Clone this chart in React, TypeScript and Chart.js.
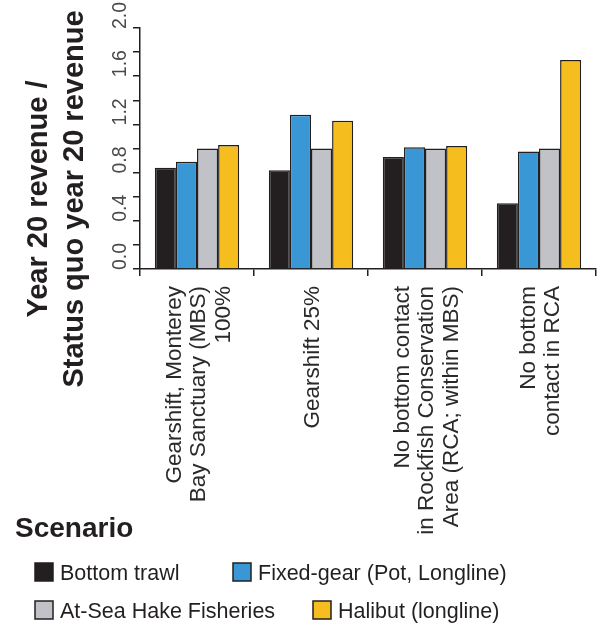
import { useEffect, useRef } from 'react';
import { Chart, registerables } from 'chart.js';
import type { Plugin } from 'chart.js';

Chart.register(...registerables);

// scenario names, one entry per line of the rotated label
const scenarios = [
  ['Gearshift, Monterey', 'Bay Sanctuary (MBS)', '100%'],
  ['Gearshift 25%'],
  ['No bottom contact', 'in Rockfish Conservation', 'Area (RCA; within MBS)'],
  ['No bottom', 'contact in RCA'],
];

// year 20 revenue relative to status quo
const bottomTrawl = [0.84, 0.82, 0.93, 0.545];
const fixedGear = [0.89, 1.28, 1.01, 0.975];
const atSeaHake = [1.0, 1.0, 1.0, 1.0];
const halibut = [1.03, 1.23, 1.02, 1.735];

const yTickValues = [0, 0.4, 0.8, 1.2, 1.6, 2.0];
const yTickLabels = ['0.0', '0.4', '0.8', '1.2', '1.6', '2.0'];
const yTitle = ['Year 20 revenue /', 'Status quo year 20 revenue'];
const xTitle = 'Scenario';

const INK = '#231f20';
const FONT = '"Liberation Sans", Arial, Helvetica, sans-serif';

// the figure's text sits where Chart.js can't put it (rotated, centred multi-line)
const figureText: Plugin<'bar'> = {
  id: 'figureText',
  afterDraw(chart) {
    const { ctx } = chart;
    const xs = chart.scales.x;
    const ys = chart.scales.y;
    ctx.save();

    // y tick labels, rotated, starting at their tick
    ctx.fillStyle = '#4a4a4c';
    ctx.font = `19.5px ${FONT}`;
    ctx.textAlign = 'left';
    ctx.textBaseline = 'alphabetic';
    yTickValues.forEach((v, i) => {
      ctx.save();
      ctx.translate(126, ys.getPixelForValue(v) + 1);
      ctx.rotate(-Math.PI / 2);
      ctx.fillText(yTickLabels[i], 0, 0);
      ctx.restore();
    });

    // category labels
    ctx.fillStyle = '#2a2a2a';
    ctx.font = `22.5px ${FONT}`;
    ctx.textAlign = 'right';
    const lineGap = 24.5;
    (chart.data.labels as string[][]).forEach((lines, i) => {
      const cx = xs.getPixelForValue(i);
      lines.forEach((line, j) => {
        const mid = cx + (j - (lines.length - 1) / 2) * lineGap;
        ctx.save();
        ctx.translate(mid + 8, ys.bottom + 17);
        ctx.rotate(-Math.PI / 2);
        ctx.fillText(line, 0, 0);
        ctx.restore();
      });
    });

    // y axis title
    ctx.fillStyle = INK;
    ctx.font = `bold 29px ${FONT}`;
    ctx.textAlign = 'center';
    [47, 83].forEach((bx, j) => {
      ctx.save();
      ctx.translate(bx, 199);
      ctx.rotate(-Math.PI / 2);
      ctx.fillText(yTitle[j], 0, 0);
      ctx.restore();
    });

    // x axis title
    ctx.font = `bold 28px ${FONT}`;
    ctx.textAlign = 'left';
    ctx.fillText(xTitle, 15, 537);

    // legend, two rows
    const slots = [
      [35, 563],
      [233, 563],
      [35, 601],
      [313, 601],
    ];
    ctx.font = `21.5px ${FONT}`;
    chart.data.datasets.forEach((ds, i) => {
      const [bx, by] = slots[i];
      ctx.fillStyle = ds.backgroundColor as string;
      ctx.fillRect(bx, by, 18, 18);
      ctx.strokeStyle = INK;
      ctx.lineWidth = 1.5;
      ctx.strokeRect(bx, by, 18, 18);
      ctx.fillStyle = INK;
      ctx.fillText(ds.label as string, bx + 25, by + 17);
    });

    ctx.restore();
  },
};

export default function App() {
  const canvasRef = useRef<HTMLCanvasElement>(null);
  const chartRef = useRef<Chart<'bar'> | null>(null);

  useEffect(() => {
    document.body.style.margin = '0';
    if (!canvasRef.current) return;
    if (chartRef.current) chartRef.current.destroy();

    const bar = (label: string, data: number[], color: string) => ({
      label,
      data,
      backgroundColor: color,
      borderColor: INK,
      borderWidth: 1.5,
      categoryPercentage: 0.74,
      barPercentage: 1.0,
    });

    chartRef.current = new Chart(canvasRef.current, {
      type: 'bar',
      data: {
        labels: scenarios,
        datasets: [
          bar('Bottom trawl', bottomTrawl, INK),
          bar('Fixed-gear (Pot, Longline)', fixedGear, '#3a97d6'),
          bar('At-Sea Hake Fisheries', atSeaHake, '#c0c2c7'),
          bar('Halibut (longline)', halibut, '#f6bd1e'),
        ],
      },
      options: {
        animation: false,
        responsive: true,
        maintainAspectRatio: false,
        layout: { padding: { top: 28, right: 8, left: 0, bottom: 0 } },
        plugins: {
          legend: { display: false },
          tooltip: { enabled: false },
        },
        scales: {
          x: {
            grid: {
              offset: true,
              drawOnChartArea: false,
              drawTicks: true,
              tickLength: 7,
              color: INK,
              lineWidth: 1.5,
            },
            border: { color: INK, width: 1.5 },
            ticks: { display: false },
            afterFit: (s) => {
              s.height = 368;
            },
          },
          y: {
            min: 0,
            max: 2,
            grid: {
              drawOnChartArea: false,
              drawTicks: true,
              tickLength: 7,
              color: INK,
              lineWidth: 1.5,
            },
            border: { color: INK, width: 1.5 },
            ticks: { display: false, stepSize: 0.2 },
            afterFit: (s) => {
              s.width = 140;
            },
          },
        },
      },
      plugins: [figureText],
    });

    return () => {
      if (chartRef.current) {
        chartRef.current.destroy();
        chartRef.current = null;
      }
    };
  }, []);

  return (
    <div style={{ position: 'relative', width: 604, height: 637, background: '#fff' }}>
      <canvas ref={canvasRef} />
    </div>
  );
}
